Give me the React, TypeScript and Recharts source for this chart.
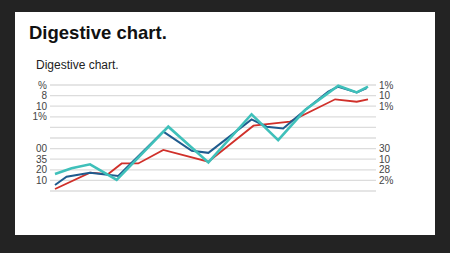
import { LineChart, Line, XAxis, YAxis, CartesianGrid } from 'recharts';

// x positions (0 = first point, 100 = last point)
const blueX = [0, 3.7, 11.2, 20.2, 34.6, 43.7, 49, 62.8, 67.6, 72.9, 79.9, 87.3, 90.5, 96.4, 99.6];
const blueY = [0.57, 1.35, 1.73, 1.42, 5.6, 3.8, 3.6, 6.76, 6.07, 5.9, 7.64, 9.37, 9.84, 9.3, 9.7];

const tealX = [0, 5.3, 11.2, 19.7, 36.2, 49, 62.8, 71.3, 79.9, 90.5, 96.4, 100];
const tealY = [1.6, 2.14, 2.52, 1.04, 6.07, 2.7, 7.24, 4.8, 7.64, 9.93, 9.3, 9.84];

const redX = [0, 11.2, 17, 21.3, 26.6, 34.6, 49, 63.4, 75.1, 89.5, 96.4, 100];
const redY = [0.19, 1.73, 1.6, 2.6, 2.6, 3.87, 2.76, 6.16, 6.54, 8.65, 8.42, 8.65];

const yTicks = [0, 1, 2, 3, 4, 5, 6, 7, 8, 9, 10];
const leftLabels = ['', '10', '20', '35', '00', '', '', '1%', '10', '8', '%'];
const rightLabels = ['', '2%', '28', '10', '30', '', '', '', '1%', '10', '1%'];

const toPoints = (xs: number[], ys: number[]) => xs.map((x, i) => ({ x, y: ys[i] }));

const blueData = toPoints(blueX, blueY);
const tealData = toPoints(tealX, tealY);
const redData = toPoints(redX, redY);

export default function App() {
  return (
    <div style={{ position: 'fixed', left: 0, top: 0, width: 450, height: 253, background: '#232323', fontFamily: '"Liberation Sans", Arial, sans-serif' }}>
      <div style={{ position: 'absolute', left: 15, top: 12, width: 420, height: 223, background: '#fff' }} />
      <div style={{ position: 'absolute', left: 29, top: 22, fontSize: 18.5, fontWeight: 'bold', color: '#111' }}>
        Digestive chart.
      </div>
      <div style={{ position: 'absolute', left: 36, top: 58, fontSize: 12, color: '#222' }}>
        Digestive chart.
      </div>
      <div style={{ position: 'absolute', left: 0, top: 0 }}>
        <LineChart width={450} height={253} margin={{ top: 85, right: 34, bottom: 62, left: 10 }}>
          <CartesianGrid vertical={false} stroke="#dcdcdc" strokeWidth={1.3} yAxisId="left" />
          <XAxis type="number" dataKey="x" domain={[0, 100]} hide padding={{ left: 5, right: 8 }} />
          <YAxis
            yAxisId="left"
            domain={[0, 10]}
            ticks={yTicks}
            interval={0}
            width={40}
            axisLine={false}
            tickLine={false}
            tickSize={0}
            tickMargin={3}
            tickFormatter={(v: number) => leftLabels[v]}
            tick={{ fontSize: 10, fill: '#444' }}
          />
          <YAxis
            yAxisId="right"
            orientation="right"
            domain={[0, 10]}
            ticks={yTicks}
            interval={0}
            width={40}
            axisLine={false}
            tickLine={false}
            tickSize={0}
            tickMargin={3}
            tickFormatter={(v: number) => rightLabels[v]}
            tick={{ fontSize: 10, fill: '#444' }}
          />
          <Line yAxisId="right" data={redData} dataKey="y" type="linear" stroke="#d0302a" strokeWidth={1.8} dot={false} isAnimationActive={false} />
          <Line yAxisId="left" data={blueData} dataKey="y" type="linear" stroke="#1f5b8e" strokeWidth={2} dot={false} isAnimationActive={false} />
          <Line yAxisId="left" data={tealData} dataKey="y" type="linear" stroke="#3fc0ba" strokeWidth={2.6} dot={false} isAnimationActive={false} />
        </LineChart>
      </div>
    </div>
  );
}
